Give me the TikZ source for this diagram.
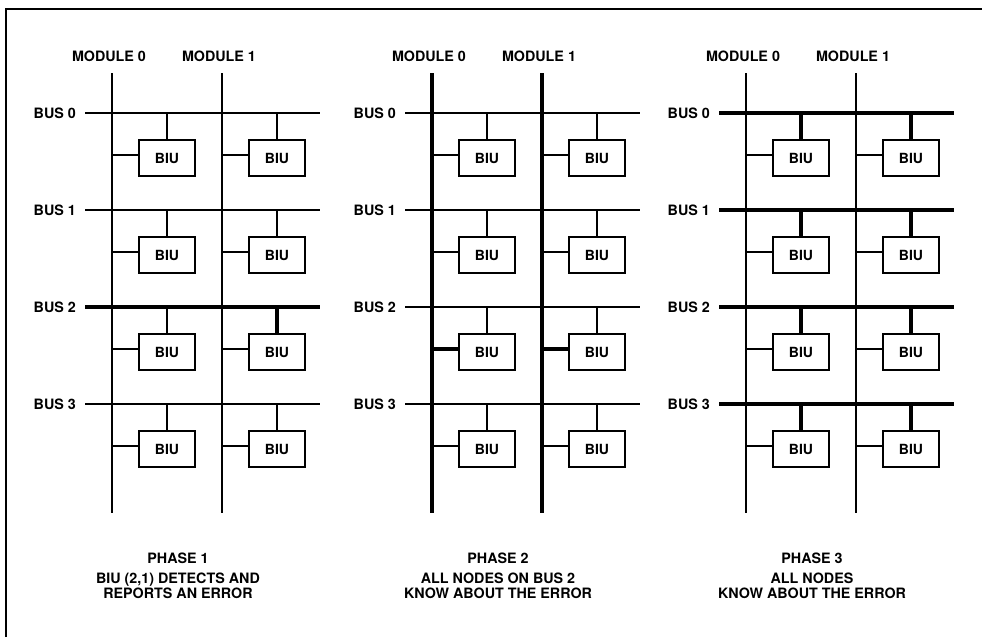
\documentclass[tikz,border=0pt]{standalone}
\usepackage{fontspec}
\setmainfont{TeX Gyre Heros}

\begin{document}
\begin{tikzpicture}[x=1pt,y=-1pt,
    lbl/.style={font=\bfseries\fontsize{14.3}{15}\selectfont,inner sep=0pt},
    biu/.style={draw,line width=1.1pt,minimum width=56pt,minimum height=36pt,inner sep=0pt,
                font=\bfseries\fontsize{14}{15}\selectfont},
    thin/.style={line width=1.1pt},
    heavy/.style={line width=4pt}]
    \useasboundingbox (0,0) rectangle (982,637);

    % Rahmen
    \draw[line width=1.4pt] (6,637) -- (6,9) -- (982,9);

    % drei Phasen: \p = Phase, \x = Lage von Modul 0
    \foreach \p/\x/\txt in {1/112/{BIU (2,1) DETECTS AND\\REPORTS AN ERROR},
                            2/432/{ALL NODES ON BUS 2\\KNOW ABOUT THE ERROR},
                            3/746/{ALL NODES\\KNOW ABOUT THE ERROR}} {
        % Module
        \foreach \m in {0,1} {
            \coordinate (top\p\m) at (\x+110*\m,73);
            \coordinate (bot\p\m) at (\x+110*\m,513);
            \node[lbl,anchor=base] (mod\p\m) at (\x+110*\m-3,61) {MODULE \m};
            \draw[thin] (top\p\m) -- (bot\p\m);
        }
        % Busse und BIUs
        \foreach \b in {0,...,3} {
            \node[lbl,anchor=east] (bus\p\b) at (\x-36,113+97*\b) {BUS \b};
            \coordinate (be\p\b) at (\x+208,113+97*\b);
            \draw[thin] ([xshift=9pt]bus\p\b.east) -- (be\p\b);
            \foreach \m in {0,1} {
                \node[biu] (biu\p\b\m) at (\x+110*\m+55,158+97*\b) {BIU};
                \draw[thin] (biu\p\b\m.north) -- (biu\p\b\m.north |- be\p\b);
                \draw[thin] ([yshift=3pt]biu\p\b\m.west) -- ([yshift=3pt]biu\p\b\m.west -| top\p\m);
            }
        }
        % Beschriftung
        \node[lbl,anchor=base] (ph\p) at (\x+66,563) {PHASE \p};
        \node[lbl,anchor=south,align=center] (txt\p) at (\x+66,599) {\txt};
    }

    % Phase 1: BIU (2,1) meldet den Fehler auf Bus 2
    \draw[heavy] ([xshift=9pt]bus12.east) -- (be12);
    \draw[heavy] (biu121.north) -- (biu121.north |- be12);

    % Phase 2: beide Module und alle Knoten an Bus 2
    \foreach \m in {0,1} {
        \draw[heavy] (top2\m) -- (bot2\m);
        \draw[heavy] ([yshift=3pt]biu22\m.west) -- ([yshift=3pt]biu22\m.west -| top2\m);
    }

    % Phase 3: alle Busse
    \foreach \b in {0,...,3} {
        \draw[heavy] ([xshift=9pt]bus3\b.east) -- (be3\b);
        \foreach \m in {0,1}
            \draw[heavy] (biu3\b\m.north) -- (biu3\b\m.north |- be3\b);
    }
\end{tikzpicture}
\end{document}
